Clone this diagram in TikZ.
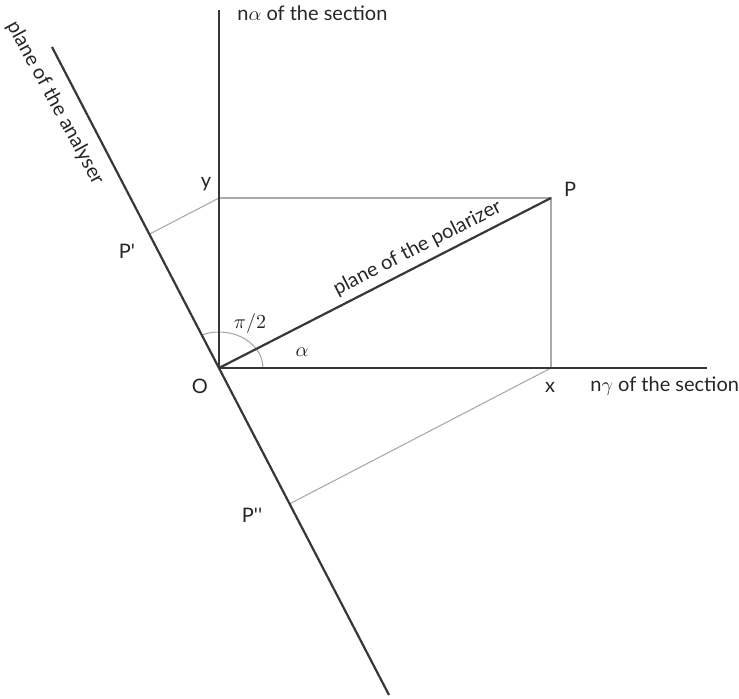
\documentclass[tikz,border=0pt]{standalone}
\usepackage{fontspec}
\setmainfont{Lato}
\usetikzlibrary{calc}
\definecolor{linegray}{RGB}{55,55,55}
\definecolor{projgray}{RGB}{170,170,170}

\begin{document}
\begin{tikzpicture}[x=0.5pt, y=0.5pt,
    axisline/.style={line width=1.1pt, linegray},
    projline/.style={line width=0.55pt, projgray},
    lbl/.style={font=\fontsize{10}{12}\selectfont, text=black!85, inner sep=0pt}]
    \useasboundingbox (0,0) rectangle (739,698);
    % main points
    \coordinate (O) at (219,330);
    \coordinate (P) at (551,500);
    \coordinate (X) at (551,330);
    \coordinate (Y) at (219,500);
    \coordinate (NaEnd) at (219,688);
    \coordinate (NgEnd) at (707,330);
    \coordinate (AnTop) at (52,651);
    \coordinate (AnBot) at (389,3);
    \coordinate (P1) at ($(AnTop)!(Y)!(AnBot)$);
    \coordinate (P2) at ($(AnTop)!(X)!(AnBot)$);

    % projections
    \draw[projline] (Y) -- (P) -- (X);
    \draw[projline] (Y) -- (P1);
    \draw[projline] (X) -- (P2);
    % angle mark
    \draw[projline] ($(O)+(22pt,0)$) arc[start angle=0, end angle=113, x radius=22pt, y radius=18pt];

    % axes and planes
    \draw[axisline] (O) -- (NaEnd);
    \draw[axisline] (O) -- (NgEnd);
    \draw[axisline] (AnTop) -- (AnBot);
    \draw[axisline] (O) -- (P)
        node[lbl, pos=0.62, sloped, above, yshift=3pt] (lbPol) {plane of the polarizer};

    % labels
    \node[lbl] (lbO) at (200,312) {O};
    \node[lbl] (lbX) at (550,311) {x};
    \node[lbl, anchor=west] (lbNg) at (590,312) {n$\gamma$ of the section};
    \node[lbl, anchor=west] (lbNa) at (237,685) {n$\alpha$ of the section};
    \node[lbl] (lbY) at (206,514) {y};
    \node[lbl] (lbP) at (570,509) {P};
    \node[lbl] (lbP1) at (127,447) {P\textquotesingle};
    \node[lbl] (lbP2) at (252,183) {P\textquotesingle\textquotesingle};
    \node[lbl] (lbHalfPi) at (250,375) {$\pi/2$};
    \node[lbl] (lbAlpha) at (302,346) {$\alpha$};
    \node[lbl, rotate=-61.5] (lbAn) at (55,595) {plane of the analyser};
\end{tikzpicture}
\end{document}
